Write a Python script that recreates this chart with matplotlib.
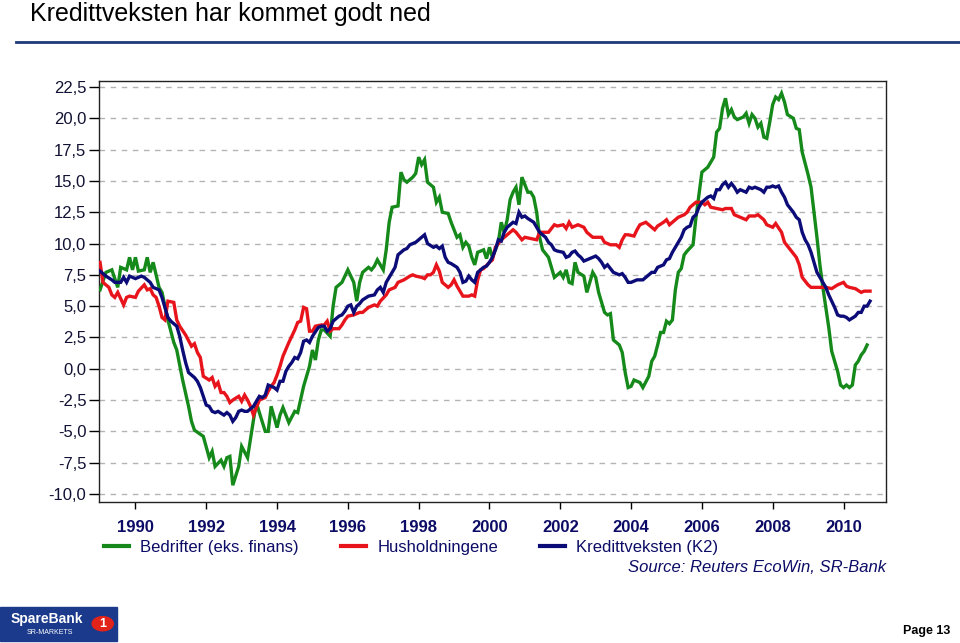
import numpy as np
import matplotlib
matplotlib.use("Agg")
import matplotlib.pyplot as plt
from matplotlib.patches import Rectangle, Circle
from matplotlib.lines import Line2D

plt.rcParams['font.family'] = ['Liberation Sans', 'DejaVu Sans']

# months since Jan 1989, and 12-month growth (%)
bed_m = [0, 2, 4, 6, 7, 9, 10, 11, 12, 13, 15, 16, 17, 18, 20, 21, 23, 25, 26, 28,
         30, 31, 32, 35, 37, 38, 39, 41, 42, 43, 44, 45, 47, 48, 50, 52, 53, 54, 56, 57,
         58, 60, 61, 62, 64, 66, 67, 69, 71, 72, 73, 74, 75, 76, 78, 79, 80, 82, 83, 84,
         86, 87, 88, 89, 91, 92, 93, 94, 96, 97, 98, 99, 101, 102, 103, 104, 106, 107, 108, 109,
         110, 111, 113, 114, 115, 116, 118, 119, 121, 122, 123, 124, 125, 126, 127, 128, 130, 131, 132, 133,
         135, 136, 137, 138, 139, 140, 141, 142, 143, 144, 145, 146, 147, 148, 149, 150, 152, 153, 154, 156,
         157, 158, 159, 160, 161, 162, 164, 165, 166, 167, 168, 169, 171, 172, 173, 174, 176, 177, 178, 179,
         180, 181, 183, 184, 186, 187, 188, 189, 190, 191, 192, 193, 194, 195, 196, 197, 198, 199, 201, 202,
         203, 204, 206, 207, 208, 209, 210, 211, 212, 213, 214, 215, 216, 218, 219, 220, 221, 222, 223, 224,
         225, 226, 227, 228, 229, 230, 231, 232, 233, 235, 236, 237, 238, 240, 241, 242, 243, 244, 245, 246,
         247, 248, 250, 251, 252, 253, 254, 255, 256, 257, 258, 259, 260]
bed_v = [6.3, 7.7, 7.9, 6.5, 8.1, 7.9, 8.9, 7.9, 8.9, 7.8, 7.9, 8.9, 7.7, 8.5, 6.5, 6.1, 3.9, 2.1, 1.5, -0.9,
         -3.0, -4.2, -4.9, -5.4, -7.1, -6.6, -7.8, -7.3, -7.8, -7.1, -7.0, -9.3, -7.8, -6.2, -7.1, -4.1, -2.7, -3.5, -5.0, -5.0,
         -3.0, -4.7, -3.7, -3.1, -4.3, -3.4, -3.5, -1.4, 0.2, 1.5, 0.7, 2.3, 3.1, 3.1, 2.6, 5.0, 6.5, 6.9, 7.4, 7.9,
         6.9, 5.4, 6.9, 7.7, 8.1, 7.9, 8.2, 8.7, 7.9, 9.5, 11.7, 12.9, 13.0, 15.7, 15.1, 14.9, 15.3, 15.6, 16.9, 16.3,
         16.7, 14.9, 14.5, 13.3, 13.7, 12.5, 12.4, 11.7, 10.5, 10.7, 9.7, 10.1, 9.8, 8.9, 8.3, 9.3, 9.5, 8.8, 9.7, 8.9,
         10.1, 11.7, 10.9, 11.9, 13.5, 14.1, 14.5, 13.1, 15.3, 14.7, 14.1, 14.1, 13.7, 12.5, 10.5, 9.5, 8.9, 8.1, 7.3, 7.7,
         7.3, 7.9, 6.9, 6.8, 8.5, 7.7, 7.4, 6.1, 6.9, 7.7, 7.3, 6.1, 4.5, 4.3, 4.4, 2.3, 1.9, 1.3, -0.3, -1.5,
         -1.4, -0.9, -1.1, -1.5, -0.6, 0.6, 1.0, 1.9, 2.9, 2.9, 3.8, 3.6, 3.9, 6.3, 7.7, 8.0, 9.1, 9.4, 9.9, 12.1,
         13.9, 15.7, 16.1, 16.5, 16.9, 18.9, 19.2, 20.8, 21.6, 20.3, 20.7, 20.1, 19.9, 20.1, 20.4, 19.6, 20.3, 20.0, 19.3, 19.6,
         18.5, 18.4, 19.7, 21.1, 21.7, 21.5, 22.0, 21.3, 20.3, 20.0, 19.2, 19.1, 17.3, 15.5, 14.5, 12.5, 10.5, 8.3, 6.5, 4.9,
         3.3, 1.4, -0.2, -1.3, -1.5, -1.3, -1.5, -1.3, 0.3, 0.6, 1.1, 1.4, 1.9]

hus_m = [0, 1, 3, 4, 5, 6, 8, 9, 10, 12, 13, 15, 16, 17, 18, 19, 20, 21, 22, 23,
         25, 26, 27, 29, 31, 32, 33, 34, 35, 37, 38, 39, 40, 41, 42, 43, 44, 45, 47, 48,
         49, 50, 51, 52, 53, 54, 56, 57, 58, 59, 60, 61, 62, 64, 65, 66, 67, 68, 69, 70,
         71, 72, 73, 75, 76, 77, 78, 79, 81, 82, 83, 84, 86, 88, 89, 91, 93, 94, 95, 97,
         98, 100, 101, 103, 105, 106, 107, 109, 110, 111, 112, 113, 114, 115, 116, 118, 119, 120, 121, 122,
         123, 125, 126, 127, 128, 129, 130, 132, 133, 134, 136, 137, 139, 140, 141, 143, 144, 146, 148, 149,
         150, 152, 154, 155, 157, 158, 159, 160, 162, 164, 165, 167, 169, 170, 171, 173, 175, 176, 177, 178,
         179, 181, 182, 183, 185, 186, 187, 188, 189, 191, 192, 193, 194, 195, 196, 198, 199, 200, 202, 204,
         205, 206, 207, 209, 211, 212, 214, 215, 217, 219, 220, 222, 223, 225, 226, 228, 229, 231, 232, 234,
         236, 237, 238, 240, 241, 243, 245, 246, 248, 250, 251, 252, 253, 254, 256, 258, 259, 261]
hus_v = [8.5, 6.9, 6.5, 5.9, 5.7, 6.1, 5.1, 5.7, 5.8, 5.7, 6.2, 6.7, 6.3, 6.4, 5.9, 5.7, 5.0, 4.1, 3.9, 5.4,
         5.3, 3.9, 3.4, 2.7, 1.8, 2.0, 1.3, 0.9, -0.6, -0.9, -0.7, -1.4, -1.1, -1.9, -1.9, -2.2, -2.7, -2.5, -2.2, -2.6,
         -2.1, -2.5, -3.0, -3.7, -3.1, -2.5, -2.3, -1.8, -1.4, -1.1, -0.5, 0.2, 1.0, 2.1, 2.6, 3.1, 3.7, 3.8, 4.9, 4.8,
         3.0, 3.0, 3.4, 3.5, 3.5, 3.8, 3.0, 3.2, 3.2, 3.5, 3.9, 4.2, 4.3, 4.5, 4.5, 4.9, 5.1, 5.0, 5.4, 5.9,
         6.3, 6.5, 6.9, 7.1, 7.4, 7.5, 7.4, 7.3, 7.2, 7.5, 7.5, 7.7, 8.3, 7.8, 6.9, 6.5, 6.7, 7.1, 6.6, 6.2,
         5.8, 5.8, 5.9, 5.8, 7.1, 7.9, 8.0, 8.5, 8.7, 9.7, 10.3, 10.5, 10.9, 11.1, 10.9, 10.3, 10.5, 10.4, 10.3, 10.9,
         10.9, 10.9, 11.5, 11.4, 11.5, 11.2, 11.7, 11.3, 11.5, 11.3, 10.9, 10.5, 10.5, 10.5, 10.1, 9.9, 9.9, 9.7, 10.3, 10.7,
         10.7, 10.6, 11.1, 11.5, 11.7, 11.5, 11.3, 11.1, 11.4, 11.7, 11.9, 11.5, 11.7, 11.9, 12.1, 12.3, 12.5, 12.9, 13.3, 13.3,
         13.1, 13.3, 12.9, 12.8, 12.7, 12.8, 12.8, 12.3, 12.1, 11.9, 12.2, 12.2, 12.3, 11.9, 11.5, 11.3, 11.6, 10.9, 10.1, 9.5,
         8.9, 8.3, 7.3, 6.7, 6.5, 6.5, 6.5, 6.5, 6.4, 6.7, 6.8, 6.9, 6.6, 6.5, 6.4, 6.1, 6.2, 6.2]

k2_m = [0, 2, 4, 5, 7, 8, 9, 10, 12, 13, 14, 15, 16, 17, 18, 20, 21, 22, 23, 24,
        26, 27, 28, 29, 30, 32, 33, 34, 35, 36, 37, 38, 39, 40, 42, 43, 44, 45, 46, 47,
        48, 49, 50, 52, 53, 54, 55, 56, 57, 59, 60, 61, 62, 63, 64, 65, 66, 67, 68, 69,
        70, 71, 72, 74, 75, 76, 77, 78, 79, 81, 82, 83, 84, 85, 86, 87, 88, 89, 91, 93,
        94, 95, 96, 97, 98, 99, 100, 101, 102, 103, 104, 105, 106, 107, 108, 109, 110, 111, 113, 114,
        115, 116, 117, 118, 119, 121, 122, 123, 124, 125, 126, 127, 128, 130, 131, 132, 133, 134, 135, 136,
        137, 138, 140, 141, 142, 143, 144, 145, 147, 148, 149, 150, 151, 152, 153, 154, 155, 157, 158, 159,
        160, 161, 162, 163, 164, 166, 167, 168, 169, 170, 171, 172, 174, 175, 176, 177, 178, 179, 180, 181,
        182, 184, 185, 186, 187, 188, 189, 191, 192, 193, 194, 195, 196, 197, 198, 199, 200, 201, 202, 203,
        204, 206, 207, 208, 209, 210, 211, 212, 213, 214, 215, 216, 217, 219, 220, 221, 222, 224, 225, 226,
        227, 228, 229, 230, 231, 232, 233, 235, 236, 237, 238, 239, 240, 241, 242, 243, 245, 246, 247, 248,
        249, 250, 251, 252, 253, 254, 256, 257, 258, 259, 260, 261]
k2_v = [7.8, 7.4, 7.1, 6.9, 6.9, 7.3, 6.9, 7.4, 7.2, 7.3, 7.4, 7.3, 7.1, 6.9, 6.5, 6.3, 5.7, 4.9, 4.1, 3.8,
        3.4, 2.6, 1.5, 0.5, -0.3, -0.7, -1.0, -1.5, -2.2, -2.9, -3.0, -3.4, -3.5, -3.4, -3.7, -3.5, -3.7, -4.2, -3.9, -3.4,
        -3.3, -3.4, -3.4, -3.0, -2.6, -2.2, -2.3, -2.1, -1.3, -1.5, -1.7, -1.0, -1.0, -0.2, 0.2, 0.5, 0.9, 0.8, 1.3, 2.2,
        2.3, 2.1, 2.6, 3.3, 3.4, 3.4, 3.0, 3.2, 3.8, 4.2, 4.3, 4.6, 5.0, 5.1, 4.5, 5.0, 5.2, 5.5, 5.8, 5.9,
        6.3, 6.5, 6.1, 6.9, 7.3, 7.7, 8.1, 9.1, 9.3, 9.5, 9.6, 9.9, 10.0, 10.1, 10.3, 10.5, 10.7, 10.0, 9.7, 9.8,
        9.6, 9.8, 8.9, 8.5, 8.4, 8.1, 7.7, 6.9, 7.0, 7.4, 7.1, 6.9, 7.7, 8.1, 8.2, 8.5, 8.9, 9.5, 10.3, 10.2,
        10.9, 11.3, 11.7, 11.6, 12.5, 12.1, 12.2, 12.0, 11.7, 11.3, 10.9, 10.7, 10.5, 10.1, 9.9, 9.5, 9.4, 9.3, 8.9, 9.0,
        9.3, 9.4, 9.1, 8.9, 8.6, 8.8, 8.9, 9.0, 8.8, 8.5, 8.1, 8.3, 7.7, 7.6, 7.5, 7.6, 7.3, 6.9, 6.9, 7.0,
        7.1, 7.1, 7.3, 7.5, 7.7, 7.7, 8.1, 8.3, 8.7, 8.8, 9.3, 9.7, 10.1, 10.5, 11.1, 11.3, 11.4, 12.1, 12.3, 12.9,
        13.3, 13.7, 13.8, 13.6, 14.3, 14.3, 14.7, 14.9, 14.5, 14.8, 14.5, 14.1, 14.3, 14.1, 14.5, 14.4, 14.5, 14.3, 14.1, 14.5,
        14.5, 14.6, 14.5, 14.6, 14.1, 13.7, 13.1, 12.5, 12.1, 11.9, 10.9, 10.3, 9.9, 9.3, 8.5, 7.7, 6.9, 6.5, 5.9, 5.4,
        4.9, 4.3, 4.2, 4.2, 4.1, 3.9, 4.2, 4.5, 4.5, 5.0, 5.0, 5.4]

labels = ["Bedrifter (eks. finans)", "Husholdningene", "Kredittveksten (K2)"]
colors = ["#15891a", "#e8141c", "#0c0c78"]
title = "Kredittveksten har kommet godt ned"
source = "Source: Reuters EcoWin, SR-Bank"
navy = "#0c0c66"

fig = plt.figure(figsize=(9.6, 6.43), dpi=100)
ax = fig.add_axes([0.1031, 0.2193, 0.8198, 0.6547])

for m, v, c in [(bed_m, bed_v, colors[0]), (hus_m, hus_v, colors[1]), (k2_m, k2_v, colors[2])]:
    t = 1989 + np.array(m) / 12.0
    ax.plot(t, v, color=c, lw=2.4, solid_joinstyle='miter', zorder=3)

ax.set_xlim(1988.97, 2011.2)
ax.set_ylim(-10.64, 22.98)
yt = np.arange(-10, 22.6, 2.5)
ax.set_yticks(yt)
ax.set_yticklabels([f"{v:.1f}".replace(".", ",") for v in yt], fontsize=12, color="#111133")
xt = np.arange(1990, 2011, 2)
ax.set_xticks(xt)
ax.set_xticklabels([str(y) for y in xt], fontsize=12, fontweight='bold', color=navy)
ax.tick_params(axis='y', direction='out', length=7, width=1, pad=2)
ax.tick_params(axis='x', direction='out', length=5, width=1, pad=8)
ax.yaxis.grid(True, linestyle=(0, (4, 4)), color='#b4b4b4', lw=1)
ax.set_axisbelow(True)
for s in ax.spines.values():
    s.set_color('#222222')
    s.set_linewidth(1)

# legend row
handles = [Line2D([], [], color=c, lw=3) for c in colors]
fig.legend(handles, labels, loc='center left', bbox_to_anchor=(0.094, 0.149), ncol=3,
           frameon=False, fontsize=12, handlelength=1.5, handletextpad=0.7,
           columnspacing=2.5, labelcolor=navy, borderpad=0.3)
fig.text(0.923, 0.118, source, ha='right', va='center', fontsize=12, style='italic', color=navy)

# title and rule
fig.text(0.031, 0.979, title, ha='left', va='center', fontsize=18, color='black')
fig.add_artist(Line2D([0.017, 1.0], [0.934, 0.934], color='#1f3a7a', lw=2))

# footer logo
fig.add_artist(Rectangle((0.0, 0.003), 0.122, 0.053, color='#1b3a8c', transform=fig.transFigure))
fig.text(0.011, 0.037, "SpareBank", fontsize=10, fontweight='bold', color='white', va='center')
fig.text(0.028, 0.016, "SR-MARKETS", fontsize=5, color='white', va='center')
fig.add_artist(Circle((0.107, 0.030), 0.011, color='#e2231a', transform=fig.transFigure))
fig.text(0.107, 0.030, "1", fontsize=9, fontweight='bold', color='white', ha='center', va='center')
fig.text(0.99, 0.019, "Page 13", fontsize=9, fontweight='bold', color='black', ha='right', va='center')

fig.savefig("out.png", dpi=100)
